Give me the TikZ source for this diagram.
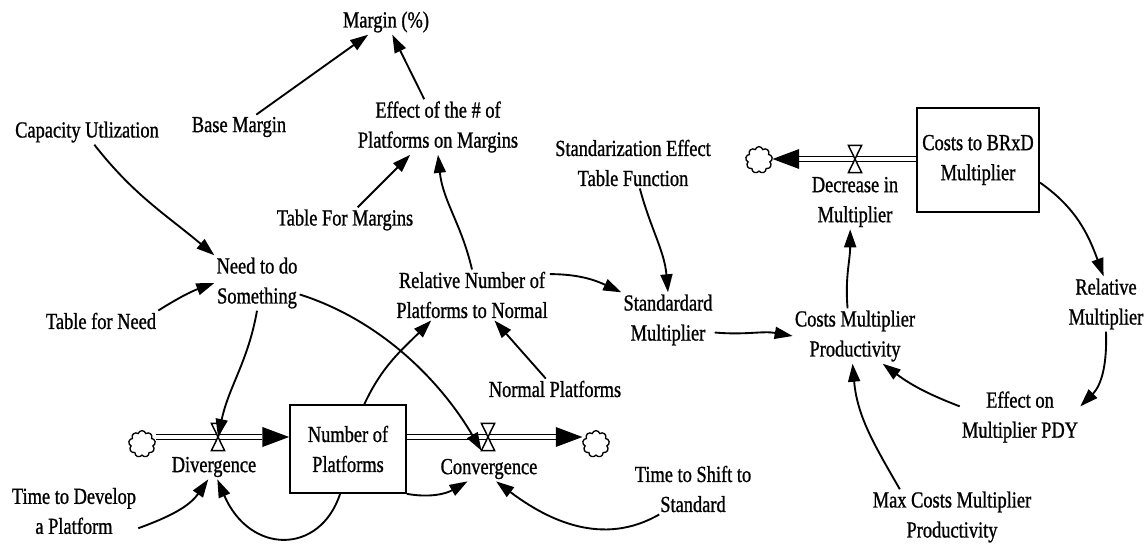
\documentclass[tikz,border=0pt]{standalone}
\usepackage{fontspec}
\setmainfont{Liberation Serif}[FakeStretch=0.8,FakeBold=1]
\usetikzlibrary{arrows.meta,shapes.symbols}

\begin{document}
\begin{tikzpicture}[x=0.75pt,y=-0.75pt,
  var/.style={align=center,inner sep=1.5pt,font=\fontsize{17.25pt}{22.5pt}\selectfont},
  stock/.style={var,draw,line width=1.3pt},
  link/.style={line width=1.4pt,-{Triangle[length=13.5pt,width=9pt]}},
  pipe/.style={double,line width=1.1pt,double distance=3pt},
  pipehead/.style={pipe,-{Triangle[length=20pt,width=15pt,line width=0pt]}},
  valve/.style={minimum width=9.5pt,minimum height=20pt,inner sep=0pt},
  sink/.style={cloud,draw,cloud puffs=9,aspect=1,minimum width=20pt,minimum height=20pt,inner sep=0pt,line width=1pt}]
\useasboundingbox (0,0) rectangle (1145,548);

% auxiliaries
\node[var] (marg) at (386,22) {Margin (\%)};
\node[var] (basem) at (239,127) {Base Margin};
\node[var] (effm) at (438,127) {Effect of the \# of\\Platforms on Margins};
\node[var] (capu) at (87,132) {Capacity Utlization};
\node[var] (tmarg) at (345,220) {Table For Margins};
\node[var] (need) at (257,283) {Need to do\\Something};
\node[var] (tneed) at (101,321) {Table for Need};
\node[var] (relnum) at (472,295) {Relative Number of\\Platforms to Normal};
\node[var] (normp) at (555,389) {Normal Platforms};
\node[var] (sete) at (633,163) {Standarization Effect\\Table Function};
\node[var] (stdm) at (668,320) {Standardard\\Multiplier};
\node[var] (costp) at (855,336) {Costs Multiplier\\Productivity};
\node[var] (dec) at (855,202) {Decrease in\\Multiplier};
\node[var] (relm) at (1106,304) {Relative\\Multiplier};
\node[var] (effpdy) at (1020,417) {Effect on\\Multiplier PDY};
\node[var] (maxc) at (952,517) {Max Costs Multiplier\\Productivity};
\node[var] (tshift) at (693,489) {Time to Shift to\\Standard};
\node[var] (tdev) at (74,511) {Time to Develop\\a Platform};
\node[var] (div) at (214,467) {Divergence};
\node[var] (conv) at (489,469) {Convergence};

% stocks, clouds and valves
\node[stock,minimum width=87pt,minimum height=66pt] (nump) at (348,449) {Number of\\Platforms};
\node[stock,minimum width=91.5pt,minimum height=78pt] (costb) at (978,160) {Costs to BRxD\\Multiplier};
\node[sink] (dl) at (142,444) {};
\node[sink] (cr) at (596,444) {};
\node[sink] (ct) at (759,160) {};
\node[valve] (dv) at (218,437) {};
\node[valve] (cv) at (488,437) {};
\node[valve] (mv) at (855,159) {};

% flows
\draw[pipehead] (dl.east |- dv) -- (nump.west |- dv);
\draw[pipehead] (nump.east |- cv) -- (cr.west |- cv);
\draw[pipehead] (costb.west |- mv) -- (ct.east |- mv);
\foreach \v in {dv,cv,mv}
  \draw[line width=1.1pt,fill=white] (\v.north west) -- (\v.north east) -- (\v.south west) -- (\v.south east) -- cycle;

% links
\draw[link] (basem) -- (marg);
\draw[link] (effm) -- (marg);
\draw[link] (capu.-60) to[out=-52,in=140] (need.north west);
\draw[link] (tmarg) -- (effm);
\draw[link] (relnum.north) to[out=103,in=-84] (effm.south);
\draw[link] (tneed.north east) to[bend left=6] (need.west);
\draw[link] (need.south) to[out=-100,in=78] (dv.center);
\draw[link] (need.-15) .. controls (380,320) and (440,380) .. (cv.south west);
\draw[link] (nump.70) to[out=65,in=-135] (relnum.-148);
\draw[link] (normp) -- (relnum);
\draw[link] (relnum.15) to[out=0,in=155] (stdm.north west);
\draw[link] (sete.-75) to[out=-75,in=95] (stdm.north);
\draw[link] (stdm.-15) to[out=-5,in=170] (costp.west);
\draw[link] (costp.105) to[out=95,in=-90] (dec.-100);
\draw[link] (costb.-20) to[out=-35,in=110] (relm.95);
\draw[link] (relm.south) to[out=-88,in=45] (effpdy.10);
\draw[link] (effpdy.170) to[bend left=8] (costp.-45);
\draw[link] (maxc.152) to[out=120,in=-85] (costp.-95);
\draw[link] (tshift.-143) to[out=-150,in=-37] (conv.-60);
\draw[link] (tdev.-15) to[out=20,in=-125] (div.-115);
\draw[link] (nump.-100) .. controls (320,555) and (250,555) .. (div.-75);
\draw[link] (nump.south east) to[out=-10,in=-150] (conv.-150);
\end{tikzpicture}
\end{document}
